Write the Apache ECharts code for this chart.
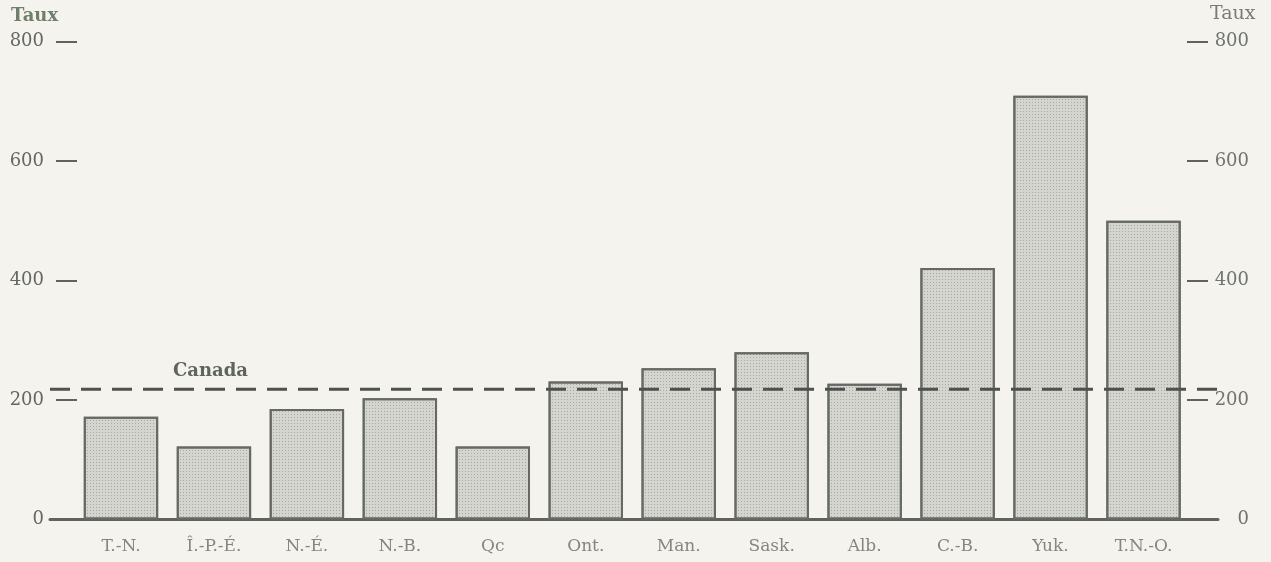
<!DOCTYPE html>
<html>
<head>
<meta charset="utf-8">
<script src="https://cdn.jsdelivr.net/npm/echarts@6/dist/echarts.min.js"></script>
<style>
html,body{margin:0;padding:0;background:#f4f3ee;}
#c{width:1271px;height:562px;}
</style>
</head>
<body>
<div id="c"></div>
<script>
const categories = ['T.-N.', 'Î.-P.-É.', 'N.-É.', 'N.-B.', 'Qc', 'Ont.', 'Man.', 'Sask.', 'Alb.', 'C.-B.', 'Yuk.', 'T.N.-O.'];
const rates = [172, 122, 185, 203, 122, 231, 253, 280, 227, 421, 709, 500];
const canadaRate = 218;
const yTicks = [0, 200, 400, 600, 800];

const FONT = '"DejaVu Serif", "Liberation Serif", serif';
const chart = echarts.init(document.getElementById('c'));
const yMin = yTicks[0], yMax = yTicks[yTicks.length - 1], yStep = yTicks[1] - yTicks[0];

chart.setOption({
  backgroundColor: '#f4f3ee',
  animation: false,
  grid: [
    {left: 74.5, right: 81, top: 41.5, bottom: 42.5},
    {left: 50, right: 53, top: 41.5, bottom: 42.5}
  ],
  xAxis: [
    {
      type: 'category', gridIndex: 0, data: categories,
      axisLine: {show: false}, axisTick: {show: false},
      axisLabel: {margin: 19, color: '#858682', fontFamily: FONT, fontSize: 17}
    },
    {
      type: 'value', gridIndex: 1, min: 0, max: 1,
      axisLine: {show: true, lineStyle: {color: '#5f625f', width: 3}},
      axisTick: {show: false}, axisLabel: {show: false}, splitLine: {show: false}
    }
  ],
  yAxis: [
    {
      type: 'value', gridIndex: 0, position: 'left', min: yMin, max: yMax, interval: yStep, offset: -2.5,
      axisLine: {show: false},
      axisTick: {show: true, length: 21, lineStyle: {color: '#5f625f', width: 2}},
      axisLabel: {margin: 33, color: '#646763', fontFamily: FONT, fontSize: 18},
      splitLine: {show: false}
    },
    {
      type: 'value', gridIndex: 0, position: 'right', min: yMin, max: yMax, interval: yStep, offset: -3,
      axisLine: {show: false},
      axisTick: {show: true, length: 21, lineStyle: {color: '#5f625f', width: 2}},
      axisLabel: {margin: 62, align: 'right', color: '#707370', fontFamily: FONT, fontSize: 18},
      splitLine: {show: false}
    },
    {
      type: 'value', gridIndex: 1, min: yMin, max: yMax, show: false
    }
  ],
  series: [
    {
      type: 'bar', xAxisIndex: 0, yAxisIndex: 0, data: rates,
      barWidth: '80%',
      itemStyle: {
        color: '#d5d5d0',
        borderColor: '#666965', borderWidth: 2,
        decal: {symbol: 'rect', symbolSize: 1, dashArrayX: [1, 2], dashArrayY: [1, 2], color: 'rgba(90,90,85,0.35)'}
      },
      z: 2
    },
    {
      type: 'line', xAxisIndex: 1, yAxisIndex: 2,
      data: [[0, canadaRate], [1, canadaRate]],
      symbol: 'none',
      lineStyle: {color: '#4e514e', width: 3, type: [20, 11]},
      z: 5
    }
  ],
  graphic: [
    {type: 'text', left: 11, top: 7, style: {text: 'Taux', font: 'bold 18px ' + FONT, fill: '#6f7f6c'}},
    {type: 'text', left: 1210, top: 5, style: {text: 'Taux', font: '19px ' + FONT, fill: '#7a7c78'}},
    {type: 'text', left: 173, top: 362, style: {text: 'Canada', font: 'bold 18px ' + FONT, fill: '#60645f'}}
  ]
});
</script>
</body>
</html>
